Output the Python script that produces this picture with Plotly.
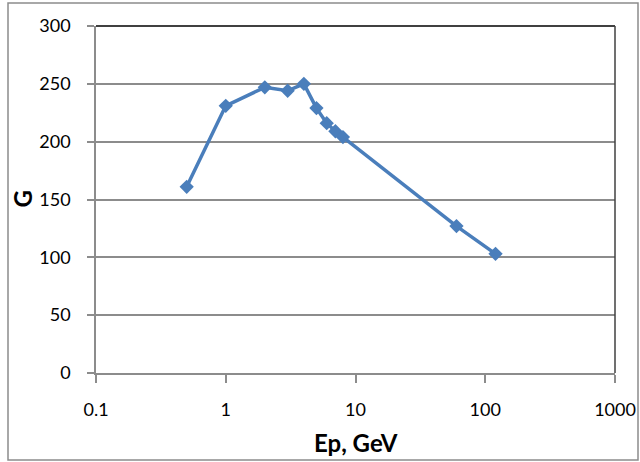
import plotly.graph_objects as go

energy = [0.5, 1, 2, 3, 4, 5, 6, 7, 8, 60, 120]
gain = [161, 231, 247, 244, 250, 229, 216, 209, 204, 127, 103]
x_ticks = [0.1, 1, 10, 100, 1000]
x_tick_text = ["0.1", "1", "10", "100", "1000"]
y_ticks = [0, 50, 100, 150, 200, 250, 300]
x_title = "Ep, GeV"
y_title = "G"

FONT = "Lato, Carlito, Calibri, sans-serif"
fig = go.Figure()
fig.add_trace(go.Scatter(
    x=energy, y=gain, mode="lines+markers",
    line=dict(color="#4a7ebb", width=3.5),
    marker=dict(symbol="diamond", size=11, color="#4a7ebb"),
    showlegend=False,
))

fig.update_layout(
    width=640, height=462,
    margin=dict(l=96, r=25, t=26, b=89),
    paper_bgcolor="white", plot_bgcolor="white",
    font=dict(family=FONT, size=18, color="black"),
    xaxis=dict(
        type="log", range=[-1, 3], automargin=False,
        tickvals=x_ticks, ticktext=x_tick_text,
        showgrid=False, showline=True, linecolor="#8c8c8c", linewidth=1.5,
        ticks="outside", ticklen=8, tickcolor="#8c8c8c", tickwidth=1.5,
        ticklabelstandoff=12,
        zeroline=False,
    ),
    yaxis=dict(
        range=[0, 300], tickvals=y_ticks, automargin=False,
        showgrid=True, gridcolor="#8c8c8c", gridwidth=1.5,
        showline=True, linecolor="#8c8c8c", linewidth=1.5,
        ticks="outside", ticklen=7, tickcolor="#8c8c8c", tickwidth=1.5,
        ticklabelstandoff=13,
        zeroline=False,
    ),
)

fig.add_annotation(text="<b>" + x_title + "</b>", xref="paper", yref="paper",
                   x=0.5, y=(373 - 442) / 347, showarrow=False,
                   font=dict(size=24), xanchor="center", yanchor="middle")
fig.add_annotation(text="<b>" + y_title + "</b>", xref="paper", yref="paper",
                   x=(22 - 96) / 519, y=0.5, showarrow=False, textangle=-90,
                   font=dict(size=24), xanchor="center", yanchor="middle")

# top and right plot-area border (dark)
fig.add_shape(type="line", xref="paper", yref="paper", x0=0, x1=1, y0=1, y1=1,
              line=dict(color="black", width=1.5))
fig.add_shape(type="line", xref="paper", yref="paper", x0=1, x1=1, y0=0, y1=1,
              line=dict(color="#404040", width=1.5))
# outer chart frame
fig.add_shape(type="rect", xref="paper", yref="paper",
              x0=(8 - 96) / 519, x1=(638 - 96) / 519,
              y0=(373 - 460) / 347, y1=(373 - 3) / 347,
              line=dict(color="#8c8c8c", width=1.5), layer="below")

fig.write_html("out.html")
